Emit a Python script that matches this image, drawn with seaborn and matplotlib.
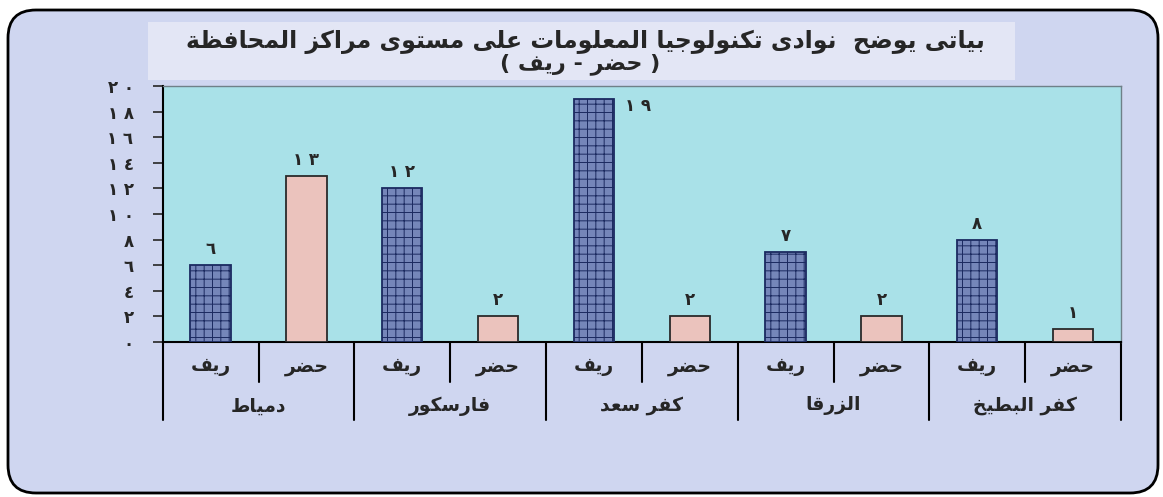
import numpy as np
import pandas as pd
import matplotlib.pyplot as plt
import seaborn as sns
from matplotlib.patches import FancyBboxPatch, Rectangle

# Data
centers = ["دمياط", "فارسكور", "كفر سعد", "الزرقا", "كفر البطيخ"]
area_types = ["ريف", "حضر"]
rural = [6, 12, 19, 7, 8]
urban = [13, 2, 2, 2, 1]
y_ticks = [0, 2, 4, 6, 8, 10, 12, 14, 16, 18, 20]

title_line1 = "بياتى يوضح  نوادى تكنولوجيا المعلومات على مستوى مراكز المحافظة"
title_line2 = "( حضر - ريف )"

# Arabic letter -> (isolated presentation form, number of forms)
FORMS = {
    "ا": (0xFE8D, 2), "ب": (0xFE8F, 4), "ة": (0xFE93, 2), "ت": (0xFE95, 4),
    "ج": (0xFE9D, 4), "ح": (0xFEA1, 4), "خ": (0xFEA5, 4), "د": (0xFEA9, 2),
    "ر": (0xFEAD, 2), "ز": (0xFEAF, 2), "س": (0xFEB1, 4), "ض": (0xFEBD, 4),
    "ط": (0xFEC1, 4), "ظ": (0xFEC5, 4), "ع": (0xFEC9, 4), "ف": (0xFED1, 4),
    "ق": (0xFED5, 4), "ك": (0xFED9, 4), "ل": (0xFEDD, 4), "م": (0xFEE1, 4),
    "ن": (0xFEE5, 4), "و": (0xFEED, 2), "ى": (0xFEEF, 2), "ي": (0xFEF1, 4),
}


def shape(text):
    # matplotlib has no Arabic shaping, so pick the joined glyph forms by hand
    out = []
    for i, ch in enumerate(text):
        if ch not in FORMS:
            out.append(ch)
            continue
        base, n = FORMS[ch]
        prev = text[i - 1] if i > 0 else ""
        nxt = text[i + 1] if i + 1 < len(text) else ""
        join_prev = prev in FORMS and FORMS[prev][1] == 4
        join_next = nxt in FORMS and n == 4
        if join_prev and join_next:
            form = 3
        elif join_prev:
            form = 1
        elif join_next:
            form = 2
        else:
            form = 0
        out.append(chr(base + form))
    vis = "".join(reversed(out))
    return vis.translate(str.maketrans("()", ")("))


def ar_num(n):
    return " ".join(chr(0x660 + int(d)) for d in str(n))


rows = []
for c, r, u in zip(centers, rural, urban):
    rows.append({"slot": c + "|" + area_types[0], "type": area_types[0], "value": r})
    rows.append({"slot": c + "|" + area_types[1], "type": area_types[1], "value": u})
df = pd.DataFrame(rows)

sns.set_style("ticks")
plt.rcParams["font.family"] = ["DejaVu Sans"]
plt.rcParams["font.weight"] = "bold"
plt.rcParams["hatch.linewidth"] = 0.7

fig = plt.figure(figsize=(11.63, 4.97), dpi=100, facecolor="white")

# rounded page frame and title box
fig.patches.append(FancyBboxPatch(
    (0.08, 0.04), 11.5, 4.83, boxstyle="round,pad=0,rounding_size=0.28",
    transform=fig.dpi_scale_trans, facecolor="#cfd6f0", edgecolor="black",
    linewidth=2, zorder=-2))
fig.patches.append(Rectangle(
    (1.48, 4.17), 8.67, 0.58, transform=fig.dpi_scale_trans,
    facecolor="#e3e6f5", edgecolor="none", zorder=-1))

fig.text(0.503, 0.915, shape(title_line1), ha="center", va="center",
         fontsize=17, fontweight="bold")
fig.text(0.499, 0.871, shape(title_line2), ha="center", va="center",
         fontsize=16, fontweight="bold")

ax = fig.add_axes([0.1399, 0.3119, 0.824, 0.5151])
ax.set_facecolor("#a9e1e8")

sns.barplot(data=df, x="slot", y="value", hue="type", hue_order=area_types,
            palette={area_types[0]: "#6a80c4", area_types[1]: "#f2bdb6"},
            dodge=False, width=0.42, legend=False, ax=ax, zorder=3)

for bar in ax.containers[0]:
    bar.set_hatch("++")
    bar.set_edgecolor("#1b2a60")
    bar.set_linewidth(1.3)
for bar in ax.containers[1]:
    bar.set_edgecolor("#2a2a2a")
    bar.set_linewidth(1.3)

# value labels
for cont in ax.containers:
    for bar in cont:
        val = bar.get_height()
        if val > 18:
            ax.annotate(ar_num(int(val)), (bar.get_x() + bar.get_width(), val),
                        xytext=(8, -5), textcoords="offset points",
                        ha="left", va="center", fontsize=12, fontweight="bold")
        else:
            ax.annotate(ar_num(int(val)), (bar.get_x() + bar.get_width() / 2, val),
                        xytext=(0, 5), textcoords="offset points",
                        ha="center", va="bottom", fontsize=12, fontweight="bold")

ax.set_xlim(-0.5, len(df) - 0.5)
ax.set_ylim(0, 20)
ax.set_yticks(y_ticks)
ax.set_yticklabels([ar_num(t) for t in y_ticks], fontsize=12, fontweight="bold")
ax.tick_params(axis="y", length=7, width=1.2, pad=14, direction="out")
ax.set_xticks([])
ax.set_xlabel("")
ax.set_ylabel("")

for side in ["left", "bottom"]:
    ax.spines[side].set_color("black")
    ax.spines[side].set_linewidth(1.5)
for side in ["top", "right"]:
    ax.spines[side].set_color("#6f8088")
    ax.spines[side].set_linewidth(1.0)

# two-level category table under the axis
trans = ax.get_xaxis_transform()
edges = np.arange(len(df) + 1) - 0.5
for i, x in enumerate(edges):
    y_end = -0.305 if i % 2 == 0 else -0.156
    ax.plot([x, x], [0, y_end], color="black", lw=1.5, transform=trans,
            clip_on=False)

for i, t in enumerate(df["type"]):
    ax.text(i, -0.095, shape(t), ha="center", va="center", transform=trans,
            fontsize=13.5, fontweight="bold")
for i, c in enumerate(centers):
    ax.text(2 * i + 0.5, -0.25, shape(c), ha="center", va="center",
            transform=trans, fontsize=13.5, fontweight="bold")

plt.savefig("out.png", dpi=100, facecolor=fig.get_facecolor())
